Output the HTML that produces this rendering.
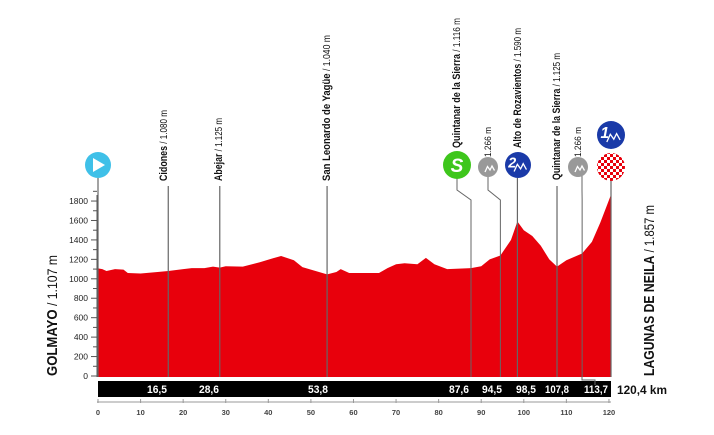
<!DOCTYPE html>
<html><head><meta charset="utf-8"><style>
html,body{margin:0;padding:0;background:#fff;width:714px;height:435px;overflow:hidden}
svg{display:block}
text{font-family:"Liberation Sans Narrow","Liberation Sans",sans-serif}
</style></head><body>
<svg id="s" width="714" height="435" xmlns="http://www.w3.org/2000/svg">
<g id="g"></g>
</svg>
<script>
var X=function(k){return 98+k*4.258}, Y=function(e){return 376-e*0.0972};
var P=[[0,1107],[1,1100],[2,1080],[4,1100],[6,1095],[7,1060],[10,1055],[14,1070],[16.5,1080],[20,1100],[22,1110],[25,1110],[27,1125],[28.6,1115],[30,1130],[34,1125],[38,1170],[41,1210],[43,1235],[46,1190],[48,1120],[53.8,1045],[56,1070],[57,1100],[59,1060],[66,1060],[68,1110],[70,1150],[72,1160],[75,1150],[77,1215],[79,1150],[82,1100],[87.6,1110],[90,1130],[92,1200],[94.5,1240],[97,1400],[98.5,1590],[100,1500],[102,1440],[104,1340],[106,1200],[107.8,1125],[110,1190],[113.7,1260],[116,1380],[118,1580],[120.4,1857]];
var h='';
var d='M'+X(0)+' 377';P.forEach(function(p){d+=' L'+X(p[0]).toFixed(1)+' '+Y(p[1]).toFixed(1)});d+=' L'+X(120.4)+' 377 Z';
h+='<path d="'+d+'" fill="#e8000c"/>';
h+='<line x1="97" y1="195" x2="97" y2="377" stroke="#555" stroke-width="1"/>';
for(var e=0;e<=1900;e+=100){var y=Y(e);h+='<line x1="'+(e%200?93:91)+'" y1="'+y+'" x2="97" y2="'+y+'" stroke="#555"/>';if(e%200==0)h+='<text x="88" y="'+(y+3)+'" font-size="8.5" text-anchor="end" fill="#222">'+e+'</text>';}
h+='<rect x="98" y="381" width="513" height="16" fill="#000"/>';
h+='<line x1="97" y1="402" x2="611" y2="402" stroke="#999"/>';
for(var k=0;k<=120;k+=10){var x=X(k);h+='<line x1="'+x+'" y1="399" x2="'+x+'" y2="403" stroke="#999"/><text x="'+x+'" y="415" font-size="7.5" font-weight="bold" text-anchor="middle" fill="#444">'+k+'</text>';}
[[16.5,'16,5',167,20],[28.6,'28,6',219,20],[53.8,'53,8',328,20],[87.6,'87,6',469,20],[94.5,'94,5',502,20],[98.5,'98,5',536,20],[107.8,'107,8',569,24],[113.7,'113,7',608,24]].forEach(function(m){h+='<text x="'+(m[2]-m[3])+'" y="393" font-size="11" textLength="'+m[3]+'" lengthAdjust="spacingAndGlyphs" fill="#fff" font-weight="bold">'+m[1]+'</text>'});
h+='<text x="617" y="394" font-size="12" font-weight="bold" fill="#111" textLength="50" lengthAdjust="spacingAndGlyphs">120,4 km</text>';
[[16.5,186],[28.6,186],[53.8,186]].forEach(function(m){h+='<line x1="'+X(m[0])+'" y1="'+m[1]+'" x2="'+X(m[0])+'" y2="377" stroke="#666" stroke-width="1.2"/>'});
h+='<line x1="'+X(107.8)+'" y1="186" x2="'+X(107.8)+'" y2="377" stroke="#666" stroke-width="1.2"/>';
h+='<line x1="98" y1="178" x2="98" y2="377" stroke="#666" stroke-width="1.2"/>';
function lead(cx,k,y0){var x=X(k);h+='<polyline points="'+cx+','+y0+' '+cx+',190 '+x+',200 '+x+',377" fill="none" stroke="#666" stroke-width="1"/>';}
lead(457,87.6,178);lead(488,94.5,175);lead(582,113.7,175);
h+='<line x1="'+X(98.5)+'" y1="178" x2="'+X(98.5)+'" y2="377" stroke="#666" stroke-width="1.2"/>';
h+='<line x1="611" y1="180" x2="611" y2="377" stroke="#666" stroke-width="1.2"/>';
h+='<polyline points="582,377 582,380 595,380 595,385" fill="none" stroke="#666"/>';
function vl(x,y,bold,light,len,fs){h+='<text transform="translate('+x+','+y+') rotate(-90)" font-size="'+(fs||11)+'" fill="#111" textLength="'+len+'" lengthAdjust="spacingAndGlyphs"><tspan font-weight="bold">'+bold+'</tspan><tspan font-size="'+((fs||11)-1)+'"> '+light+'</tspan></text>';}
vl(167,181,'Cidones','/ 1.080 m',71);
vl(222,181,'Abejar','/ 1.125 m',63);
vl(330,181,'San Leonardo de Yagüe','/ 1.040 m',146);
vl(460,148,'Quintanar de la Sierra','/ 1.116 m',130);
vl(521,148,'Alto de Rozavientos','/ 1.590 m',120);
vl(560,180,'Quintanar de la Sierra','/ 1.125 m',127);
h+='<text transform="translate(491,157) rotate(-90)" font-size="9.5" fill="#111" textLength="30" lengthAdjust="spacingAndGlyphs">1.266 m</text>';
h+='<text transform="translate(581,157) rotate(-90)" font-size="9.5" fill="#111" textLength="30" lengthAdjust="spacingAndGlyphs">1.266 m</text>';
vl(57,376,'GOLMAYO','/ 1.107 m',121,15);
h+='<text transform="translate(654,376) rotate(-90)" font-size="15" fill="#111" textLength="171" lengthAdjust="spacingAndGlyphs"><tspan font-weight="bold">LAGUNAS DE NEILA</tspan><tspan font-size="14"> / 1.857 m</tspan></text>';
h+='<circle cx="98" cy="165" r="13" fill="#3fc0e8"/><polygon points="93,158 93,172 105,165" fill="#fff"/>';
h+='<circle cx="457" cy="165" r="14" fill="#3ec61c"/><text x="457" y="172" font-size="19" font-weight="bold" font-style="italic" text-anchor="middle" fill="#fff" font-family="Liberation Sans">S</text>';
function mtn(cx,cy,r,fill,num){h+='<circle cx="'+cx+'" cy="'+cy+'" r="'+r+'" fill="'+fill+'"/>';h+='<polyline points="'+(cx-r*0.3)+','+(cy+r*0.5)+' '+(cx-r*0.05)+','+(cy-r*0.05)+' '+(cx+r*0.2)+','+(cy+r*0.3)+' '+(cx+r*0.4)+','+(cy-r*0.1)+' '+(cx+r*0.65)+','+(cy+r*0.35)+'" fill="none" stroke="#fff" stroke-width="1.3"/>';h+='<text x="'+(cx-r*0.75)+'" y="'+(cy+r*0.2)+'" font-size="'+(r*1.1)+'" font-weight="bold" font-style="italic" fill="#fff" font-family="Liberation Sans">'+num+'</text>';}
mtn(488,167,10,'#999','');mtn(518,165,13,'#1a3aa8','2');mtn(578,167,10,'#999','');mtn(611,135,14,'#1a3aa8','1');
h+='<defs><pattern id="ck" width="6" height="6" patternUnits="userSpaceOnUse" x="1" y="1"><rect width="6" height="6" fill="#fff"/><rect width="3" height="3" fill="#e8000c"/><rect x="3" y="3" width="3" height="3" fill="#e8000c"/></pattern></defs>';
h+='<circle cx="611" cy="167" r="14" fill="url(#ck)"/>';
document.getElementById('g').innerHTML=h;
</script>
</body></html>
